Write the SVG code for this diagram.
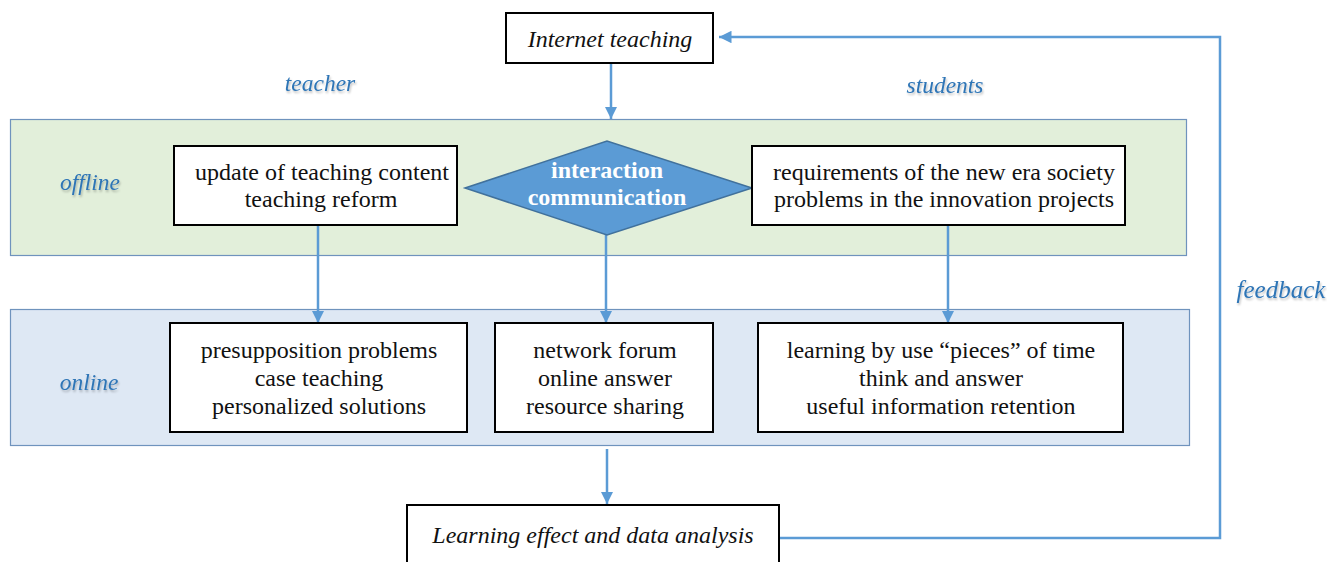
<svg xmlns="http://www.w3.org/2000/svg" width="1327" height="562" viewBox="0 0 1327 562">
<defs>
<marker id="arr" viewBox="0 0 10 10" refX="10" refY="5" markerWidth="5" markerHeight="5" orient="auto" markerUnits="strokeWidth">
<path d="M0,0 L10,5 L0,10 z" fill="#5B9BD5"/>
</marker>
<filter id="sh" x="-10%" y="-20%" width="120%" height="150%">
<feGaussianBlur in="SourceAlpha" stdDeviation="0.8"/>
<feOffset dx="1" dy="1.5" result="b"/>
<feFlood flood-color="#000" flood-opacity="0.25"/>
<feComposite in2="b" operator="in"/>
<feMerge><feMergeNode/><feMergeNode in="SourceGraphic"/></feMerge>
</filter>
</defs>
<style>
.box{fill:#fff;stroke:#000;stroke-width:2}
.t{font-family:"Liberation Serif","Times New Roman",serif;font-size:24px;fill:#111;text-anchor:middle}
.it{font-style:italic}
.lab{font-family:"Liberation Serif","Times New Roman",serif;font-style:italic;font-size:23.5px;fill:#2E75B6;text-anchor:middle;filter:url(#sh)}
.con{fill:none;stroke:#5B9BD5;stroke-width:2.5}
.dt{font-family:"Liberation Serif","Times New Roman",serif;font-weight:bold;font-size:24px;fill:#fff;text-anchor:middle}
</style>
<rect width="1327" height="562" fill="#fff"/>
<g id="panel-offline">
<rect x="10.5" y="119.5" width="1176" height="136" fill="#E2EFDA" stroke="#6F93BD" stroke-width="1.2"/>
</g>
<g id="panel-online">
<rect x="10.5" y="309.5" width="1179" height="136" fill="#DEE8F4" stroke="#6F93BD" stroke-width="1.2"/>
</g>
<g id="labels">
<text class="lab" x="320" y="91">teacher</text>
<text class="lab" x="945" y="93">students</text>
<text class="lab" x="90" y="190">offline</text>
<text class="lab" x="89" y="390">online</text>
<text class="lab" x="1281" y="298" style="font-size:25px">feedback</text>
</g>
<g id="connectors">
<line class="con" x1="611" y1="63" x2="611" y2="119" marker-end="url(#arr)"/>
<line class="con" x1="318" y1="225" x2="318" y2="323" marker-end="url(#arr)"/>
<line class="con" x1="606" y1="235" x2="606" y2="323" marker-end="url(#arr)"/>
<line class="con" x1="948" y1="225" x2="948" y2="323" marker-end="url(#arr)"/>
<line class="con" x1="607" y1="449" x2="607" y2="504" marker-end="url(#arr)"/>
<polyline class="con" points="779,538 1220,538 1220,37 719,37" marker-end="url(#arr)"/>
</g>
<g id="node-internet">
<rect class="box" x="506" y="13" width="207" height="50"/>
<text class="t it" x="610" y="47">Internet teaching</text>
</g>
<g id="node-update">
<rect class="box" x="174" y="146" width="283" height="79"/>
<text class="t" x="322" y="180">update of teaching content</text>
<text class="t" x="321" y="207">teaching reform</text>
</g>
<g id="node-interaction">
<polygon points="465,188 607,141 752,188 607,235" fill="#5B9BD5" stroke="#41719C" stroke-width="1.5"/>
<text class="dt" x="607" y="178">interaction</text>
<text class="dt" x="607" y="205">communication</text>
</g>
<g id="node-requirements">
<rect class="box" x="752" y="146" width="373" height="79"/>
<text class="t" x="944" y="180">requirements of the new era society</text>
<text class="t" x="944" y="207">problems in the innovation projects</text>
</g>
<g id="node-presupposition">
<rect class="box" x="170" y="323" width="297" height="109"/>
<text class="t" x="319" y="358">presupposition problems</text>
<text class="t" x="319" y="386">case teaching</text>
<text class="t" x="319" y="414">personalized solutions</text>
</g>
<g id="node-forum">
<rect class="box" x="495" y="323" width="218" height="109"/>
<text class="t" x="605" y="358">network forum</text>
<text class="t" x="605" y="386">online answer</text>
<text class="t" x="605" y="414">resource sharing</text>
</g>
<g id="node-learning">
<rect class="box" x="758" y="323" width="365" height="109"/>
<text class="t" x="941" y="358">learning by use “pieces” of time</text>
<text class="t" x="941" y="386">think and answer</text>
<text class="t" x="941" y="414">useful information retention</text>
</g>
<g id="node-effect">
<rect class="box" x="407" y="505" width="372" height="70"/>
<text class="t it" x="593" y="543">Learning effect and data analysis</text>
</g>
</svg>
